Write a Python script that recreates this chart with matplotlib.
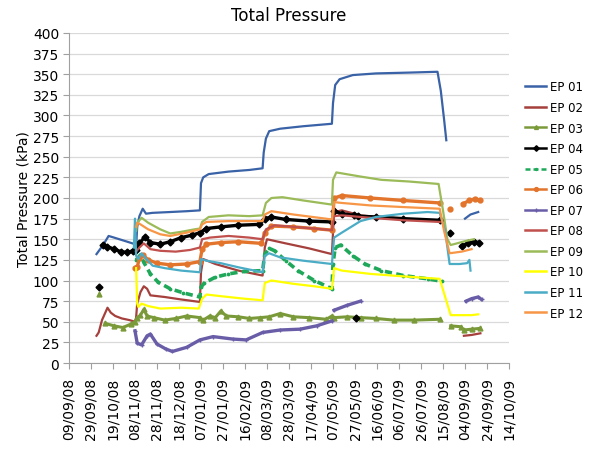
import datetime as dt
import numpy as np
import matplotlib.pyplot as plt
import matplotlib.dates as mdates

# readings: (date, kPa); None breaks the line
ep01 = [("04/10/08", 132), ("10/10/08", 143), ("15/10/08", 154), ("20/10/08", 152), ("01/11/08", 147),
        ("08/11/08", 144), ("09/11/08", 140), ("10/11/08", 165), ("12/11/08", 178), ("15/11/08", 187),
        ("18/11/08", 181), ("24/11/08", 182), ("10/12/08", 183), ("25/12/08", 184), ("06/01/09", 185),
        ("07/01/09", 218), ("09/01/09", 225), ("14/01/09", 229), ("01/02/09", 232), ("20/02/09", 234),
        ("04/03/09", 236), ("05/03/09", 255), ("07/03/09", 272), ("10/03/09", 281), ("20/03/09", 284),
        ("10/04/09", 287), ("06/05/09", 290), ("07/05/09", 315), ("09/05/09", 337), ("13/05/09", 344),
        ("25/05/09", 349), ("15/06/09", 351), ("15/07/09", 352), ("10/08/09", 353), ("13/08/09", 330),
        ("16/08/09", 295), ("18/08/09", 270), ("19/08/09", None), ("04/09/09", 175), ("09/09/09", 180),
        ("16/09/09", 183)]
ep02 = [("04/10/08", 33), ("06/10/08", 37), ("09/10/08", 52), ("12/10/08", 61), ("14/10/08", 67),
        ("17/10/08", 61), ("21/10/08", 57), ("27/10/08", 54), ("03/11/08", 52), ("08/11/08", 50),
        ("09/11/08", 55), ("10/11/08", 72), ("13/11/08", 86), ("16/11/08", 93), ("19/11/08", 90),
        ("22/11/08", 82), ("05/12/08", 80), ("20/12/08", 77), ("06/01/09", 74), ("07/01/09", 110),
        ("09/01/09", 126), ("20/01/09", 120), ("10/02/09", 112), ("04/03/09", 106), ("06/03/09", 140),
        ("08/03/09", 150), ("25/03/09", 145), ("15/04/09", 139), ("06/05/09", 132), ("08/05/09", 183),
        ("15/05/09", 185), ("01/06/09", 179), ("01/07/09", 175), ("10/08/09", 172), ("13/08/09", None),
        ("03/09/09", 33), ("10/09/09", 34), ("18/09/09", 36)]
ep03 = [("06/10/08", 84), ("07/10/08", None), ("12/10/08", 48), ("20/10/08", 45), ("28/10/08", 43),
        ("04/11/08", 47), ("08/11/08", 50), ("10/11/08", 55), ("13/11/08", 58), ("16/11/08", 65),
        ("19/11/08", 57), ("25/11/08", 55), ("05/12/08", 52), ("15/12/08", 54), ("25/12/08", 57),
        ("06/01/09", 55), ("09/01/09", 52), ("15/01/09", 57), ("20/01/09", 55), ("25/01/09", 63),
        ("30/01/09", 57), ("10/02/09", 56), ("20/02/09", 54), ("02/03/09", 55), ("10/03/09", 56),
        ("20/03/09", 60), ("01/04/09", 56), ("15/04/09", 55), ("01/05/09", 53), ("06/05/09", 57),
        ("08/05/09", 55), ("20/05/09", 56), ("01/06/09", 55), ("15/06/09", 54), ("01/07/09", 52),
        ("20/07/09", 52), ("12/08/09", 53), ("13/08/09", None), ("22/08/09", 45), ("31/08/09", 44),
        ("03/09/09", 40), ("10/09/09", 41), ("18/09/09", 42)]
ep04 = [("06/10/08", 92), ("07/10/08", None), ("10/10/08", 143), ("14/10/08", 141), ("20/10/08", 138),
        ("26/10/08", 135), ("01/11/08", 134), ("06/11/08", 136), ("09/11/08", 137), ("12/11/08", 145),
        ("17/11/08", 153), ("22/11/08", 146), ("01/12/08", 144), ("10/12/08", 147), ("20/12/08", 152),
        ("30/12/08", 155), ("06/01/09", 158), ("12/01/09", 163), ("25/01/09", 165), ("10/02/09", 167),
        ("01/03/09", 168), ("06/03/09", 175), ("12/03/09", 177), ("25/03/09", 174), ("15/04/09", 172),
        ("06/05/09", 171), ("08/05/09", 184), ("15/05/09", 181), ("26/05/09", 179), ("27/05/09", None),
        ("28/05/09", 54), ("29/05/09", None), ("30/05/09", 178), ("15/06/09", 177), ("10/07/09", 175),
        ("12/08/09", 173), ("13/08/09", None), ("21/08/09", 157), ("22/08/09", None), ("01/09/09", 142),
        ("07/09/09", 145), ("12/09/09", 147), ("17/09/09", 146)]
ep05 = [("09/11/08", 125), ("13/11/08", 131), ("16/11/08", 122), ("22/11/08", 108), ("29/11/08", 98),
        ("10/12/08", 90), ("22/12/08", 85), ("06/01/09", 80), ("07/01/09", 92), ("10/01/09", 97),
        ("20/01/09", 104), ("01/02/09", 108), ("15/02/09", 111), ("04/03/09", 112), ("06/03/09", 132),
        ("10/03/09", 139), ("15/03/09", 136), ("25/03/09", 124), ("05/04/09", 112), ("20/04/09", 100),
        ("06/05/09", 90), ("07/05/09", 120), ("09/05/09", 140), ("14/05/09", 143), ("25/05/09", 130),
        ("05/06/09", 120), ("20/06/09", 112), ("10/07/09", 106), ("01/08/09", 102), ("14/08/09", 99)]
ep06 = [("08/11/08", 115), ("10/11/08", 116), ("12/11/08", 127), ("15/11/08", 131), ("20/11/08", 125),
        ("28/11/08", 121), ("10/12/08", 119), ("25/12/08", 120), ("06/01/09", 123), ("08/01/09", 138),
        ("12/01/09", 144), ("25/01/09", 146), ("10/02/09", 147), ("03/03/09", 145), ("06/03/09", 158),
        ("12/03/09", 166), ("01/04/09", 165), ("20/04/09", 163), ("06/05/09", 161), ("08/05/09", 200),
        ("15/05/09", 203), ("10/06/09", 200), ("10/07/09", 197), ("12/08/09", 194), ("13/08/09", None),
        ("21/08/09", 187), ("22/08/09", None), ("02/09/09", 193), ("08/09/09", 197), ("13/09/09", 199),
        ("18/09/09", 197)]
ep07 = [("08/11/08", 39), ("10/11/08", 24), ("14/11/08", 22), ("19/11/08", 33), ("22/11/08", 35),
        ("28/11/08", 23), ("06/12/08", 17), ("12/12/08", 14), ("25/12/08", 19), ("06/01/09", 28),
        ("18/01/09", 32), ("05/02/09", 29), ("17/02/09", 28), ("04/03/09", 37), ("20/03/09", 40),
        ("07/04/09", 41), ("22/04/09", 45), ("06/05/09", 51), ("07/05/09", None), ("08/05/09", 64),
        ("20/05/09", 70), ("01/06/09", 75), ("02/06/09", None), ("05/09/09", 75), ("10/09/09", 78),
        ("16/09/09", 80), ("19/09/09", 77)]
ep08 = [("09/11/08", 135), ("12/11/08", 140), ("16/11/08", 145), ("22/11/08", 138), ("01/12/08", 136),
        ("15/12/08", 135), ("28/12/08", 137), ("06/01/09", 140), ("08/01/09", 150), ("15/01/09", 152),
        ("01/02/09", 154), ("20/02/09", 152), ("04/03/09", 150), ("07/03/09", 162), ("15/03/09", 167),
        ("01/04/09", 165), ("20/04/09", 163), ("06/05/09", 161), ("08/05/09", 178), ("15/05/09", 179),
        ("10/06/09", 176), ("10/07/09", 173), ("12/08/09", 171)]
ep09 = [("09/11/08", 160), ("10/11/08", 170), ("14/11/08", 176), ("20/11/08", 170), ("01/12/08", 162),
        ("10/12/08", 157), ("20/12/08", 159), ("01/01/09", 162), ("06/01/09", 163), ("08/01/09", 171),
        ("14/01/09", 177), ("01/02/09", 179), ("20/02/09", 178), ("04/03/09", 179), ("07/03/09", 194),
        ("12/03/09", 200), ("22/03/09", 201), ("10/04/09", 197), ("06/05/09", 192), ("07/05/09", 222),
        ("10/05/09", 231), ("01/06/09", 226), ("20/06/09", 222), ("15/07/09", 220), ("11/08/09", 217),
        ("15/08/09", 185), ("19/08/09", 150), ("22/08/09", 143), ("05/09/09", 148), ("12/09/09", 150)]
ep10 = [("09/11/08", 115), ("10/11/08", 72), ("11/11/08", 68), ("14/11/08", 72), ("20/11/08", 69),
        ("01/12/08", 66), ("20/12/08", 67), ("05/01/09", 66), ("08/01/09", 78), ("12/01/09", 83),
        ("25/01/09", 81), ("15/02/09", 78), ("04/03/09", 76), ("06/03/09", 97), ("12/03/09", 100),
        ("01/04/09", 96), ("20/04/09", 93), ("06/05/09", 90), ("08/05/09", 115), ("15/05/09", 112),
        ("10/06/09", 108), ("10/07/09", 105), ("12/08/09", 102), ("17/08/09", 80), ("22/08/09", 58),
        ("10/09/09", 58), ("16/09/09", 59)]
ep11 = [("07/11/08", 140), ("08/11/08", 175), ("09/11/08", 130), ("11/11/08", 126), ("14/11/08", 133),
        ("17/11/08", 128), ("24/11/08", 118), ("05/12/08", 115), ("20/12/08", 112), ("06/01/09", 110),
        ("07/01/09", 126), ("12/01/09", 124), ("25/01/09", 121), ("10/02/09", 116), ("04/03/09", 110),
        ("06/03/09", 130), ("10/03/09", 133), ("20/03/09", 128), ("10/04/09", 124), ("06/05/09", 120),
        ("08/05/09", 152), ("15/05/09", 158), ("01/06/09", 172), ("15/06/09", 177), ("10/07/09", 181),
        ("01/08/09", 183), ("12/08/09", 182), ("17/08/09", 160), ("21/08/09", 120), ("30/08/09", 120),
        ("06/09/09", 121), ("08/09/09", 125), ("09/09/09", 112)]
ep12 = [("09/11/08", 165), ("10/11/08", 170), ("13/11/08", 168), ("20/11/08", 162), ("01/12/08", 156),
        ("10/12/08", 154), ("25/12/08", 158), ("06/01/09", 162), ("08/01/09", 168), ("12/01/09", 171),
        ("01/02/09", 172), ("04/03/09", 172), ("06/03/09", 180), ("12/03/09", 184), ("01/04/09", 180),
        ("06/05/09", 174), ("08/05/09", 195), ("15/05/09", 194), ("10/06/09", 191), ("10/07/09", 189),
        ("12/08/09", 187), ("16/08/09", 160), ("21/08/09", 133), ("01/09/09", 135), ("10/09/09", 138)]

labels = ["EP 01", "EP 02", "EP 03", "EP 04", "EP 05", "EP 06",
          "EP 07", "EP 08", "EP 09", "EP 10", "EP 11", "EP 12"]
data = [ep01, ep02, ep03, ep04, ep05, ep06, ep07, ep08, ep09, ep10, ep11, ep12]

# (colour, marker, line width, line style)
styles = [
    ("#3A62A7", None, 1.6, "-"),
    ("#A5403C", None, 1.6, "-"),
    ("#7A9A3A", "^", 2.2, "-"),
    ("black", "D", 2.4, "-"),
    ("#1FA85A", ".", 2.6, (0, (2, 1.2))),
    ("#E3742B", "o", 2.4, "-"),
    ("#6A5DA8", "+", 2.4, "-"),
    ("#C0504D", None, 1.6, "-"),
    ("#9BBB59", None, 1.6, "-"),
    ("#FFFF00", None, 1.6, "-"),
    ("#4BACC6", None, 1.6, "-"),
    ("#F79646", None, 1.6, "-"),
]


def parse(points):
    d = [dt.datetime.strptime(p[0], "%d/%m/%y") for p in points]
    v = [np.nan if p[1] is None else p[1] for p in points]
    return d, v


fig = plt.figure(figsize=(5.89, 4.52), dpi=100)
ax = fig.add_axes([69 / 589, 1 - 364 / 452, 440 / 589, 330 / 452])

lines = []
for pts, lab, (c, m, lw, ls) in zip(data, labels, styles):
    d, v = parse(pts)
    ln, = ax.plot(d, v, color=c, lw=lw, ls=ls, marker=m, ms=3.5, mew=1.0, label=lab)
    lines.append(ln)

start = dt.datetime(2008, 9, 9)
ticks = [start + dt.timedelta(days=20 * i) for i in range(21)]
ax.set_xticks(ticks)
ax.xaxis.set_major_formatter(mdates.DateFormatter("%d/%m/%y"))
ax.set_xlim(ticks[0], ticks[-1])
ax.set_ylim(0, 400)
ax.set_yticks(np.arange(0, 401, 25))

ax.grid(axis="y", color="#D9D9D9", lw=0.9)
ax.set_axisbelow(True)
for s in ["top", "right"]:
    ax.spines[s].set_visible(False)
for s in ["left", "bottom"]:
    ax.spines[s].set_color("#A0A0A0")
ax.tick_params(axis="x", rotation=90, length=4, pad=6, color="#A0A0A0", labelsize=10)
ax.tick_params(axis="y", length=4, pad=3, color="#A0A0A0", labelsize=10)

ax.set_title("Total Pressure", fontsize=12, pad=9)
ax.set_ylabel("Total Pressure (kPa)", fontsize=10, labelpad=2)

leg = fig.legend(handles=lines, loc="center left", bbox_to_anchor=(525 / 589, 1 - 201 / 452),
                 frameon=False, fontsize=8.5, handlelength=1.8, handletextpad=0.35,
                 labelspacing=0.64, borderpad=0, borderaxespad=0, markerscale=0.8)
for h in leg.legend_handles:
    h.set_linewidth(1.8)

plt.savefig("out.png", dpi=100)
